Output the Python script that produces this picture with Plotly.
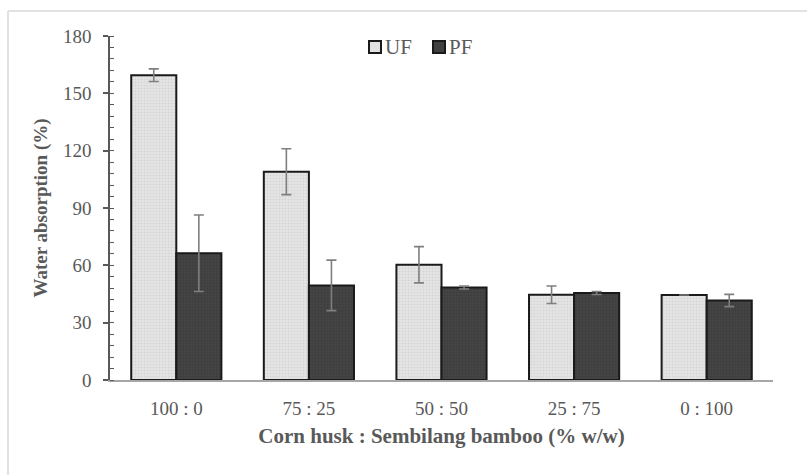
import plotly.graph_objects as go

categories = ["100 : 0", "75 : 25", "50 : 50", "25 : 75", "0 : 100"]
series_names = ["UF", "PF"]
uf_values = [159.5, 109.0, 60.3, 44.6, 44.5]
uf_errors = [3.3, 12.0, 9.5, 4.6, 0.0]
pf_values = [66.3, 49.5, 48.4, 45.5, 41.6]
pf_errors = [20.0, 13.2, 0.8, 0.8, 3.2]

W, H = 807, 475
ml, mr, mt, mb = 110, 34, 36, 95
pw, ph = W - ml - mr, H - mt - mb

def px_x(p):
    return (p - ml) / pw

def px_y(p):
    return (H - mb - p) / ph

font_family = "Liberation Serif, Times New Roman, serif"
gray_text = "#595959"
uf_style = dict(color="#e2e2e2", line=dict(color="#1a1a1a", width=2),
                pattern=dict(shape=".", bgcolor="#e6e6e6", fgcolor="#c4c4c4", size=3, solidity=0.4))
pf_style = dict(color="#404040", line=dict(color="#1a1a1a", width=2),
                pattern=dict(shape=".", bgcolor="#444444", fgcolor="#333333", size=3, solidity=0.4))

fig = go.Figure()
fig.add_trace(go.Bar(
    name=series_names[0], x=categories, y=uf_values, marker=uf_style, showlegend=False,
    error_y=dict(type="data", array=uf_errors, color="#7f7f7f", thickness=1.6, width=5, visible=True),
))
fig.add_trace(go.Bar(
    name=series_names[1], x=categories, y=pf_values, marker=pf_style, showlegend=False,
    error_y=dict(type="data", array=pf_errors, color="#7f7f7f", thickness=1.6, width=5, visible=True),
))

# light frame (top and left edges)
x_left, x_right = px_x(8), px_x(W)
y_top, y_bot = px_y(11), px_y(H)
fig.add_shape(type="line", xref="paper", yref="paper", x0=x_left, x1=x_right, y0=y_top, y1=y_top,
              line=dict(color="#d9d9d9", width=1.5))
fig.add_shape(type="line", xref="paper", yref="paper", x0=x_left, x1=x_left, y0=y_top, y1=y_bot,
              line=dict(color="#d9d9d9", width=1.5))

# legend drawn as key squares + labels
legend_items = [(series_names[0], 369, "#e2e2e2"), (series_names[1], 433, "#404040")]
for name, left, fill in legend_items:
    fig.add_shape(type="rect", xref="paper", yref="paper",
                  x0=px_x(left), x1=px_x(left + 12), y0=px_y(53), y1=px_y(41),
                  fillcolor=fill, line=dict(color="#1a1a1a", width=2))
    fig.add_annotation(xref="paper", yref="paper", x=px_x(left + 14), y=px_y(47),
                       xanchor="left", yanchor="middle", text=name, showarrow=False,
                       font=dict(family=font_family, size=21, color=gray_text))

fig.update_layout(
    width=W, height=H,
    margin=dict(l=ml, r=mr, t=mt, b=mb),
    paper_bgcolor="white", plot_bgcolor="white",
    barmode="group", bargap=0.32, bargroupgap=0,
    showlegend=False,
    font=dict(family=font_family, color=gray_text, size=19),
    xaxis=dict(showline=True, linecolor="#a6a6a6", linewidth=2, ticks="",
               tickfont=dict(size=19, color=gray_text), ticklabelstandoff=10,
               title=dict(text="<b>Corn husk : Sembilang bamboo (% w/w)</b>",
                          font=dict(size=21, color=gray_text), standoff=11)),
    yaxis=dict(range=[0, 180], dtick=30, tick0=0, showline=True, linecolor="#595959", linewidth=1.5,
               ticks="outside", ticklen=5, tickcolor="#595959", tickwidth=1.5,
               showgrid=False, zeroline=False,
               minor=dict(dtick=6, ticks="inside", ticklen=4, tickcolor="#595959", tickwidth=1, showgrid=False),
               tickfont=dict(size=19, color=gray_text), ticklabelstandoff=8,
               title=dict(text="<b>Water absorption (%)</b>", font=dict(size=19, color=gray_text), standoff=10)),
)

fig.write_html("out.html")
